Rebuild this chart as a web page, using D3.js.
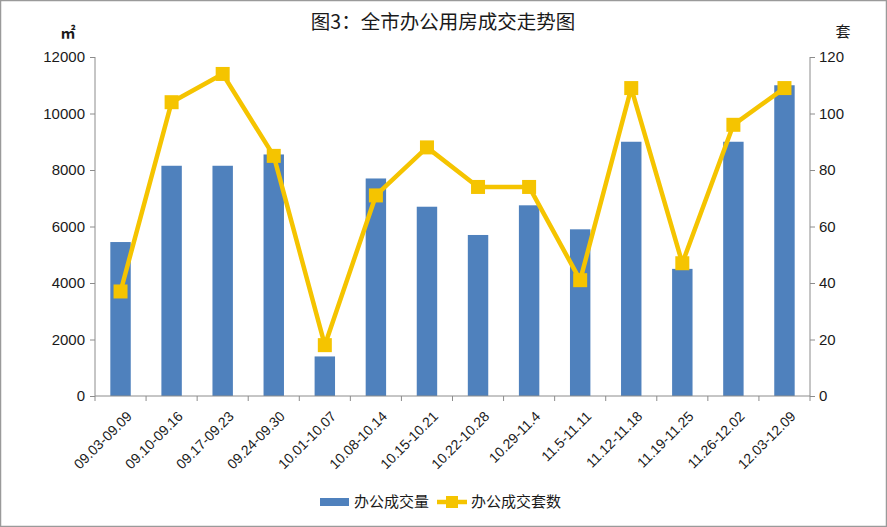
<!DOCTYPE html>
<html>
<head>
<meta charset="utf-8">
<script src="https://cdn.jsdelivr.net/npm/d3@7"></script>
<style>
  html, body { margin: 0; padding: 0; background: #fff; }
  svg { display: block; font-family: "Noto Sans CJK SC", "Liberation Sans", sans-serif; }
</style>
</head>
<body>
<svg width="887" height="527"></svg>
<script>
let width = 887, height = 527;

// data
const weeks = ["09.03-09.09", "09.10-09.16", "09.17-09.23", "09.24-09.30", "10.01-10.07",
  "10.08-10.14", "10.15-10.21", "10.22-10.28", "10.29-11.4", "11.5-11.11",
  "11.12-11.18", "11.19-11.25", "11.26-12.02", "12.03-12.09"];
const area = [5450, 8150, 8150, 8550, 1400, 7700, 6700, 5700, 6750, 5900, 9000, 4500, 9000, 11000];
const units = [37, 104, 114, 85, 18, 71, 88, 74, 74, 41, 109, 47, 96, 109];
const leftTicks = [0, 2000, 4000, 6000, 8000, 10000, 12000];
const rightTicks = [0, 20, 40, 60, 80, 100, 120];

const barColor = "#4F81BD", lineColor = "#F5C400", axisColor = "#8c8c8c";
const plot = { left: 95, right: 810, top: 57, bottom: 396 };

let svg = d3.select("svg");

// outer border like the original image
svg.append("rect")
  .attr("x", 0.5).attr("y", 0.5)
  .attr("width", width - 1).attr("height", height - 1)
  .attr("fill", "#fff").attr("stroke", "#9a9a9a").attr("stroke-width", 1.5);

let x = d3.scaleBand().domain(weeks).range([plot.left, plot.right]);
let yL = d3.scaleLinear().domain([0, 12000]).range([plot.bottom, plot.top]);
let yR = d3.scaleLinear().domain([0, 120]).range([plot.bottom, plot.top]);

// bars
let barW = x.bandwidth() * 0.4;
svg.append("g").selectAll("rect")
  .data(weeks)
  .enter()
  .append("rect")
  .attr("x", (d) => x(d) + x.bandwidth() / 2 - barW / 2)
  .attr("y", (d, i) => yL(area[i]))
  .attr("width", barW)
  .attr("height", (d, i) => yL(0) - yL(area[i]))
  .attr("fill", barColor);

// axes
let leftAxis = svg.append("g")
  .attr("transform", "translate(" + plot.left + ",0)")
  .call(d3.axisLeft(yL).tickValues(leftTicks).tickSize(5).tickPadding(5).tickFormat(d3.format("d")));

let rightAxis = svg.append("g")
  .attr("transform", "translate(" + plot.right + ",0)")
  .call(d3.axisRight(yR).tickValues(rightTicks).tickSize(5).tickPadding(4).tickFormat(d3.format("d")));

let bottomAxis = svg.append("g")
  .attr("transform", "translate(0," + plot.bottom + ")")
  .call(d3.axisBottom(x).tickSize(0).tickPadding(8));

// x tick marks sit at band edges
svg.append("g").selectAll("line")
  .data(weeks.concat(["end"]))
  .enter()
  .append("line")
  .attr("x1", (d, i) => plot.left + i * x.step())
  .attr("x2", (d, i) => plot.left + i * x.step())
  .attr("y1", plot.bottom)
  .attr("y2", plot.bottom + 5)
  .attr("stroke", axisColor);

[leftAxis, rightAxis, bottomAxis].forEach(function(a) {
  a.selectAll(".domain").attr("stroke", axisColor);
  a.selectAll(".tick line").attr("stroke", axisColor);
  a.selectAll("text").attr("fill", "#1a1a1a").style("font-size", "15px")
    .style("font-family", "'Liberation Sans', sans-serif");
});
leftAxis.select(".domain").attr("d", "M0," + plot.top + "V" + plot.bottom);
rightAxis.select(".domain").attr("d", "M0," + plot.top + "V" + plot.bottom);
bottomAxis.select(".domain").attr("d", "M" + plot.left + ",0H" + plot.right);

bottomAxis.selectAll(".tick text")
  .style("font-size", "14px")
  .attr("text-anchor", "end")
  .attr("dy", "0.35em")
  .attr("transform", "translate(3,12) rotate(-45)");

// line + square markers
let line = d3.line()
  .x((d, i) => x(weeks[i]) + x.bandwidth() / 2)
  .y((d) => yR(d));

svg.append("path")
  .datum(units)
  .attr("d", line)
  .attr("fill", "none")
  .attr("stroke", lineColor)
  .attr("stroke-width", 4.5)
  .attr("stroke-linejoin", "round");

svg.append("g").selectAll("rect")
  .data(units)
  .enter()
  .append("rect")
  .attr("x", (d, i) => x(weeks[i]) + x.bandwidth() / 2 - 7)
  .attr("y", (d) => yR(d) - 7)
  .attr("width", 14)
  .attr("height", 14)
  .attr("fill", lineColor);

// titles
svg.append("text")
  .attr("x", 443).attr("y", 29)
  .attr("text-anchor", "middle")
  .style("font-size", "19.5px")
  .attr("fill", "#1a1a1a")
  .text("图3：全市办公用房成交走势图");

svg.append("text")
  .attr("x", 68).attr("y", 38)
  .attr("text-anchor", "middle")
  .style("font-size", "15px")
  .style("font-weight", "bold")
  .attr("fill", "#1a1a1a")
  .text("㎡");

svg.append("text")
  .attr("x", 843).attr("y", 37)
  .attr("text-anchor", "middle")
  .style("font-size", "15px")
  .attr("fill", "#1a1a1a")
  .text("套");

// legend
let legend = svg.append("g").attr("transform", "translate(320,502)");
legend.append("rect")
  .attr("x", 0).attr("y", -4).attr("width", 29).attr("height", 8)
  .attr("fill", barColor);
legend.append("text")
  .attr("x", 34).attr("y", 0).attr("dy", "0.35em")
  .style("font-size", "15px").attr("fill", "#1a1a1a")
  .text("办公成交量");
legend.append("line")
  .attr("x1", 117).attr("x2", 147).attr("y1", 0).attr("y2", 0)
  .attr("stroke", lineColor).attr("stroke-width", 4.5);
legend.append("rect")
  .attr("x", 126).attr("y", -6).attr("width", 12).attr("height", 12)
  .attr("fill", lineColor);
legend.append("text")
  .attr("x", 151).attr("y", 0).attr("dy", "0.35em")
  .style("font-size", "15px").attr("fill", "#1a1a1a")
  .text("办公成交套数");
</script>
</body>
</html>
